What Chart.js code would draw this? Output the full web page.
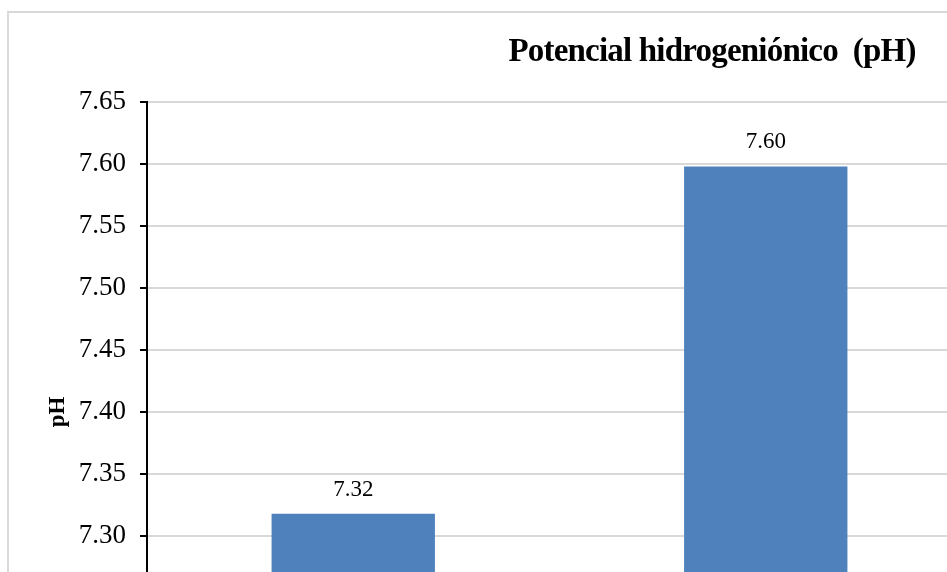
<!DOCTYPE html>
<html>
<head>
<meta charset="utf-8">
<script src="https://cdn.jsdelivr.net/npm/chart.js@4.4.1/dist/chart.umd.min.js"></script>
<style>
  html, body { margin: 0; padding: 0; background: #fff; overflow: hidden; }
  #wrap { position: absolute; left: 0; top: 0; width: 947px; height: 572px; overflow: hidden; }
  #frame { position: absolute; left: 7px; top: 11px; width: 1400px; height: 800px; border: 2px solid #d9d9d9; }
  #box { position: absolute; left: 0; top: 0; width: 1000px; height: 800px; }
</style>
</head>
<body>
<div id="wrap">
  <div id="frame"></div>
  <div id="box"><canvas id="phChart"></canvas></div>
</div>
<script>
// Datos del gráfico (la imagen original está recortada abajo)
const categorias = ['Muestra 1', 'Muestra 2'];
const valoresPH = [7.318, 7.598];
const ticksY = [7.15, 7.20, 7.25, 7.30, 7.35, 7.40, 7.45, 7.50, 7.55, 7.60, 7.65];
const tituloGrafico = 'Potencial hidrogeniónico  (pH)';
const tituloEjeY = 'pH';

const serif = "'Liberation Serif', 'Times New Roman', serif";

// Etiquetas de valor encima de cada barra
const etiquetasPlugin = {
  id: 'etiquetasValor',
  afterDatasetsDraw(chart) {
    const c = chart.ctx;
    const meta = chart.getDatasetMeta(0);
    c.save();
    c.font = '23px ' + serif;
    c.fillStyle = '#000';
    c.textAlign = 'center';
    c.textBaseline = 'alphabetic';
    meta.data.forEach((bar, i) => {
      c.fillText(valoresPH[i].toFixed(2), bar.x, bar.y - 18);
    });
    c.restore();
  }
};

// Título alineado como en el original (no centrado sobre el área del gráfico)
const tituloPlugin = {
  id: 'tituloDerecha',
  afterDraw(chart) {
    const c = chart.ctx;
    c.save();
    c.font = 'bold 33px ' + serif;
    c.letterSpacing = '-0.8px';
    c.fillStyle = '#000';
    c.textAlign = 'center';
    c.textBaseline = 'alphabetic';
    c.fillText(tituloGrafico, 712, 61);
    c.restore();
  }
};

const ctx = document.getElementById('phChart').getContext('2d');
const phChart = new Chart(ctx, {
  type: 'bar',
  data: {
    labels: categorias,
    datasets: [{
      label: tituloEjeY,
      data: valoresPH,
      backgroundColor: '#4f81bd',
      barPercentage: 0.396,
      categoryPercentage: 1
    }]
  },
  options: {
    responsive: true,
    maintainAspectRatio: false,
    animation: false,
    layout: { padding: { top: 102, right: 28, bottom: 78, left: 0 } },
    plugins: {
      legend: { display: false },
      tooltip: { enabled: false },
      title: { display: false }
    },
    scales: {
      x: { display: false },
      y: {
        min: 7.15,
        max: 7.65,
        afterBuildTicks: axis => { axis.ticks = ticksY.map(v => ({ value: v })); },
        afterFit: axis => { axis.width = 147; },
        border: { color: '#000', width: 2 },
        grid: { color: '#d9d9d9', lineWidth: 2, tickColor: '#000', tickLength: 7, tickWidth: 2 },
        ticks: {
          font: { family: serif, size: 27 },
          color: '#000',
          padding: 14,
          callback: v => Number(v).toFixed(2)
        },
        title: {
          display: true,
          text: tituloEjeY,
          color: '#000',
          font: { family: serif, size: 23, weight: 'bold' },
          padding: { top: 44, bottom: 0 }
        }
      }
    }
  },
  plugins: [etiquetasPlugin, tituloPlugin]
});
</script>
</body>
</html>
